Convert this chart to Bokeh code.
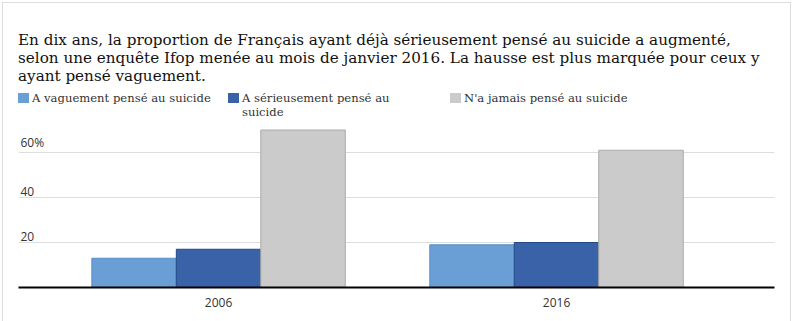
import textwrap
from bokeh.plotting import figure
from bokeh.layouts import column
from bokeh.models import Range1d, FixedTicker, ColumnDataSource, Div
from bokeh.core.properties import value
from bokeh.embed import file_html
from bokeh.resources import INLINE

# ---- data ----
years = ["2006", "2016"]
series = ["A vaguement pensé au suicide",
          "A sérieusement pensé au suicide",
          "N'a jamais pensé au suicide"]
vaguement = [13, 19]
serieusement = [17, 20]
jamais = [70, 61]
y_ticks = [20, 40, 60]
y_tick_labels = ["20", "40", "60%"]
title_lines = ["En dix ans, la proportion de Français ayant déjà sérieusement pensé au suicide a augmenté,",
               "selon une enquête Ifop menée au mois de janvier 2016. La hausse est plus marquée pour ceux y",
               "ayant pensé vaguement."]

colors = ["#699fd5", "#3a62a8", "#cbcbcb"]
outlines = ["#5a8fc6", "#244a88", "#aaaaaa"]

SERIF = '"DejaVu Serif", "Liberation Serif", serif'

# ---- layout (inner content starts at canvas x=3, y=3) ----
IW = 787
DIV_H = 117
FIG_H = 201
FL, FR = 15, 771           # frame left/right within content
FT, FB = 2, 167            # frame top/bottom within figure

title_html = "<br>".join(title_lines)
legend_x = [15, 225, 447]
leg_html = ""
for lx, name, c in zip(legend_x, series, colors):
    wrapped = "<br>".join(textwrap.wrap(name, 28))
    leg_html += (f"<div style='position:absolute;left:{lx}px;top:90px;width:11px;height:10px;"
                 f"background:{c};'></div>"
                 f"<div style='position:absolute;left:{lx + 14}px;top:88px;font-size:11.6px;"
                 f"line-height:14px;color:#333;white-space:nowrap;font-family:{SERIF};'>{wrapped}</div>")
html = (f"<div style='position:relative;width:{IW}px;height:{DIV_H}px;'>"
        f"<div style='position:absolute;left:15px;top:28px;font-size:15.2px;line-height:18px;"
        f"color:#111;white-space:nowrap;font-family:{SERIF};'>{title_html}</div>{leg_html}</div>")
header = Div(text=html, width=IW, height=DIV_H, margin=0)

p = figure(width=IW, height=FIG_H, output_backend="svg", toolbar_location=None,
           x_range=Range1d(-0.592, 1.645), y_range=Range1d(0, (FB - FT) / 2.25),
           y_axis_location=None, min_border_left=FL, min_border_right=IW - FR,
           min_border_top=FT, min_border_bottom=FIG_H - FB, margin=0)
p.outline_line_color = None
p.background_fill_color = "white"
p.border_fill_color = "white"
p.xgrid.grid_line_color = None
p.ygrid.grid_line_color = "#dddddd"
p.ygrid.ticker = FixedTicker(ticks=y_ticks)

idx = list(range(len(years)))
values = [vaguement, serieusement, jamais]
offsets = [-0.25, 0.0, 0.25]
for vals, off, c, oc in zip(values, offsets, colors, outlines):
    src = ColumnDataSource(dict(x=[i + off for i in idx], top=vals))
    p.vbar(x="x", top="top", bottom=0, width=0.25, source=src,
           fill_color=c, line_color=oc, line_width=1)

ax = p.xaxis[0]
ax.ticker = FixedTicker(ticks=idx)
ax.major_label_overrides = {i: y for i, y in zip(idx, years)}
ax.axis_line_color = "black"
ax.axis_line_width = 2
ax.major_tick_line_color = None
ax.minor_tick_line_color = None
ax.major_label_text_font = "Open Sans"
ax.major_label_text_font_size = "12px"
ax.major_label_text_color = "#333333"
ax.major_label_standoff = 4

ysrc = ColumnDataSource(dict(x=[-0.592] * len(y_ticks), y=y_ticks, t=y_tick_labels))
p.text(x="x", y="y", text="t", source=ysrc, x_offset=2, y_offset=-2,
       text_baseline="bottom", text_align="left",
       text_font=value("Open Sans"), text_font_size="12px", text_color="#333333")

layout = column(header, p, spacing=0, margin=(2, 0, 0, 2),
                styles={"border-left": "1px solid #dddddd", "border-top": "1px solid #dddddd",
                        "border-right": "1px solid #dddddd"})

open("out.html", "w").write(file_html(layout, INLINE))
